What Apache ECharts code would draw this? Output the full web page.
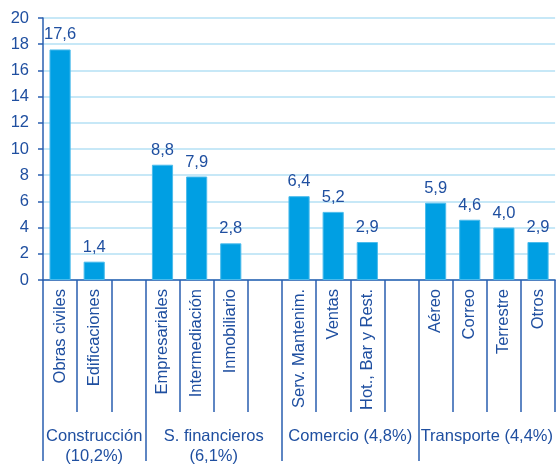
<!DOCTYPE html>
<html>
<head>
<meta charset="utf-8">
<script src="https://cdn.jsdelivr.net/npm/echarts@6/dist/echarts.min.js"></script>
<style>
  html, body { margin: 0; padding: 0; background: #fff; }
  #chart { width: 556px; height: 466px; }
</style>
</head>
<body>
<div id="chart"></div>
<script>
// categorias (los '' son huecos entre grupos)
const categories = [
  "Obras civiles", "Edificaciones", "",
  "Empresariales", "Intermediación", "Inmobiliario", "",
  "Serv. Mantenim.", "Ventas", "Hot., Bar y Rest.", "",
  "Aéreo", "Correo", "Terrestre", "Otros"
];
const values = [17.6, 1.4, null, 8.8, 7.9, 2.8, null, 6.4, 5.2, 2.9, null, 5.9, 4.6, 4.0, 2.9];
const groupNames = ["Construcción\n(10,2%)", "S. financieros\n(6,1%)", "Comercio (4,8%)", "Transporte (4,4%)"];
const groupStarts = [0, 3, 7, 11];
const groupCenters = [1.5, 5, 9, 13];
const catTicks = [0, 1, 2, 3, 4, 5, 6, 7, 8, 9, 10, 11, 12, 13, 14, 15];
const yTicks = [0, 2, 4, 6, 8, 10, 12, 14, 16, 18, 20];

const txt = "#1f4fa0";
const axisCol = "#2a5fb0";
const font = "Liberation Sans, Arial, sans-serif";

let myChart = echarts.init(document.getElementById("chart"));
let option = {
  animation: false,
  grid: { left: 43, right: 0, top: 18, bottom: 185 },
  xAxis: [
    {
      type: "category",
      data: categories,
      axisLine: { lineStyle: { color: axisCol, width: 1.5 } },
      axisTick: { show: false },
      axisLabel: {
        interval: 0, rotate: 90, margin: 9,
        color: txt, fontSize: 16.5, fontFamily: font
      }
    },
    {
      // separadores de categoria
      type: "value",
      position: "bottom",
      min: 0, max: 15,
      axisLine: { show: false },
      splitLine: { show: false },
      axisTick: {
        show: true,
        customValues: catTicks,
        length: 132,
        lineStyle: { color: axisCol, width: 1.5 }
      },
      axisLabel: { show: false }
    },
    {
      // eje de grupos
      type: "value",
      position: "bottom",
      min: 0, max: 15,
      axisLine: { show: false },
      splitLine: { show: false },
      axisTick: {
        show: true,
        customValues: groupStarts,
        length: 181,
        lineStyle: { color: axisCol, width: 1.5 }
      },
      axisLabel: {
        customValues: groupCenters,
        margin: 146,
        color: txt, fontSize: 16.5, fontFamily: font, lineHeight: 20,
        formatter: (v) => groupNames[groupCenters.indexOf(v)] || ""
      }
    }
  ],
  yAxis: {
    type: "value",
    min: yTicks[0],
    max: yTicks[yTicks.length - 1],
    interval: 2,
    axisLine: { show: true, lineStyle: { color: axisCol, width: 1.5 } },
    axisTick: { show: true, length: 5, lineStyle: { color: axisCol, width: 1.5 } },
    axisLabel: { margin: 14, color: txt, fontSize: 16.5, fontFamily: font },
    splitLine: { lineStyle: { color: "#b5e1f5", width: 1.5 } }
  },
  series: [
    {
      type: "bar",
      xAxisIndex: 0,
      data: values,
      barWidth: "62%",
      itemStyle: { color: "#009fe3", borderColor: "#4cbcec", borderWidth: 1 },
      label: {
        show: true,
        position: "top",
        distance: 6,
        color: txt,
        fontSize: 16.5,
        fontFamily: font,
        formatter: (d) => d.value.toFixed(1).replace(".", ",")
      }
    }
  ]
};
myChart.setOption(option);
</script>
</body>
</html>
